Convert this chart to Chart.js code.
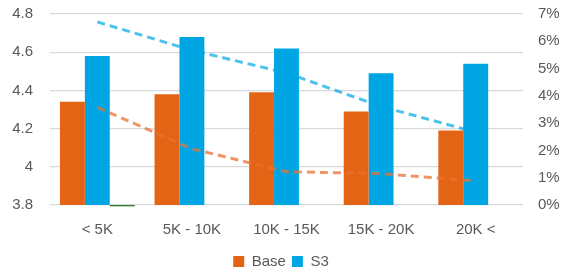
<!DOCTYPE html>
<html>
<head>
<meta charset="utf-8">
<script src="https://cdn.jsdelivr.net/npm/chart.js@4/dist/chart.umd.min.js"></script>
<style>
  html, body { margin: 0; padding: 0; background: #fff; }
  #wrap { width: 562px; height: 271px; }
</style>
</head>
<body>
<div id="wrap"><canvas id="myChart"></canvas></div>
<script>
// カテゴリ・値
const categories = ['< 5K', '5K - 10K', '10K - 15K', '15K - 20K', '20K <'];
const baseValues = [4.34, 4.38, 4.39, 4.29, 4.19];
const s3Values = [4.58, 4.68, 4.62, 4.49, 4.54];
const thirdValues = [[3.793, 3.8], null, null, null, null];
// 右軸 (%)
const baseRate = [0.0358, 0.0206, 0.0122, 0.0115, 0.0088];
const s3Rate = [0.0671, 0.0567, 0.0484, 0.0361, 0.0267];
const leftTicks = [3.8, 4.0, 4.2, 4.4, 4.6, 4.8];

const font = { family: 'Liberation Sans', size: 15 };
const textColor = '#595959';

// 縦軸の余白を固定
function fixVertical(width) {
    return axis => {
        axis.width = width;
        axis.paddingTop = 14;
        axis.paddingBottom = 0;
    };
}

const ctx = document.getElementById('myChart').getContext('2d');
const myChart = new Chart(ctx, {
    type: 'bar',
    data: {
        labels: categories,
        datasets: [
            { label: 'Base', data: baseValues, backgroundColor: '#E36414', yAxisID: 'y', order: 2 },
            { label: 'S3', data: s3Values, backgroundColor: '#00A6E4', yAxisID: 'y', order: 2 },
            { label: 'other', data: thirdValues, backgroundColor: '#2E7D32', yAxisID: 'y', order: 2, clip: false },
            {
                type: 'line', label: 'Base %', data: baseRate, yAxisID: 'y2', order: 0,
                borderColor: 'rgba(233, 113, 50, 0.75)', borderWidth: 3, borderDash: [8, 5],
                pointRadius: 0, fill: false, tension: 0
            },
            {
                type: 'line', label: 'S3 %', data: s3Rate, yAxisID: 'y2', order: 0,
                borderColor: 'rgba(0, 166, 228, 0.7)', borderWidth: 3, borderDash: [8, 5],
                pointRadius: 0, fill: false, tension: 0
            }
        ]
    },
    options: {
        responsive: true,
        maintainAspectRatio: false,
        animation: false,
        layout: { padding: { left: 0, right: 0, top: 0, bottom: -8 } },
        datasets: {
            bar: { categoryPercentage: 0.79, barPercentage: 1.0 }
        },
        scales: {
            x: {
                grid: { display: false },
                border: { display: false },
                ticks: { color: textColor, font: font, padding: 8 },
                afterFit: axis => { axis.height = 43; }
            },
            y: {
                position: 'left',
                min: 3.8, max: 4.8,
                afterBuildTicks: axis => { axis.ticks = leftTicks.map(v => ({ value: v })); },
                afterFit: fixVertical(50),
                grid: { color: '#d9d9d9', lineWidth: 1.2, drawTicks: false },
                border: { display: false },
                ticks: {
                    color: textColor, font: font, padding: 17,
                    callback: v => String(Math.round(v * 10) / 10)
                }
            },
            y2: {
                position: 'right',
                min: 0, max: 0.07,
                afterFit: fixVertical(39),
                grid: { display: false, drawTicks: false },
                border: { display: false },
                ticks: {
                    stepSize: 0.01, color: textColor, font: font, padding: 15,
                    callback: v => Math.round(v * 100) + '%'
                }
            }
        },
        plugins: {
            legend: {
                position: 'bottom',
                labels: {
                    color: textColor, font: font, boxWidth: 11, boxHeight: 11, padding: 6,
                    filter: item => item.text === 'Base' || item.text === 'S3'
                }
            },
            tooltip: { enabled: false }
        }
    }
});
</script>
</body>
</html>
